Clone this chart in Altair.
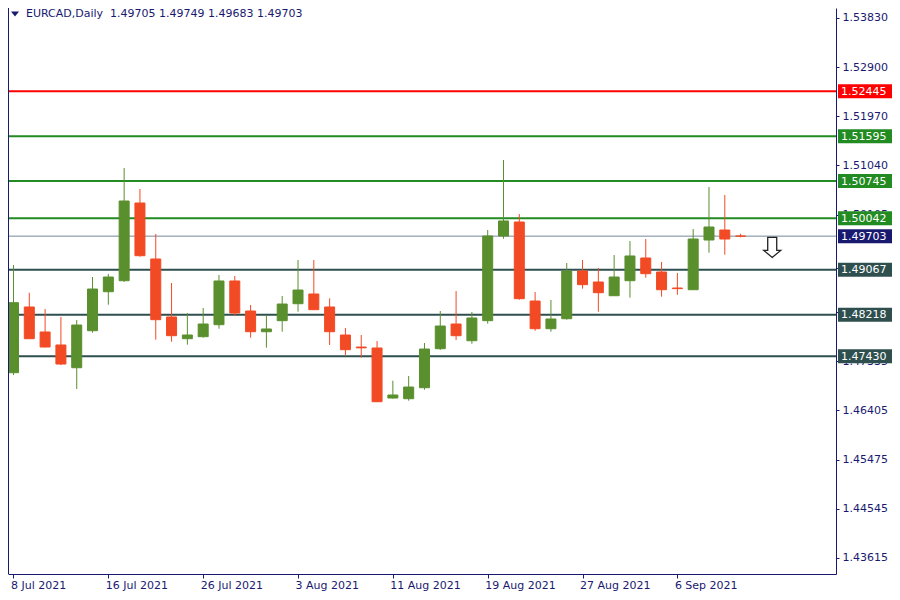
import altair as alt
import pandas as pd

# ---------------- data ----------------
dates = [
    "2021-07-08", "2021-07-09", "2021-07-12", "2021-07-13", "2021-07-14", "2021-07-15",
    "2021-07-16", "2021-07-19", "2021-07-20", "2021-07-21", "2021-07-22", "2021-07-23",
    "2021-07-26", "2021-07-27", "2021-07-28", "2021-07-29", "2021-07-30", "2021-08-02",
    "2021-08-03", "2021-08-04", "2021-08-05", "2021-08-06", "2021-08-09", "2021-08-10",
    "2021-08-11", "2021-08-12", "2021-08-13", "2021-08-16", "2021-08-17", "2021-08-18",
    "2021-08-19", "2021-08-20", "2021-08-23", "2021-08-24", "2021-08-25", "2021-08-26",
    "2021-08-27", "2021-08-30", "2021-08-31", "2021-09-01", "2021-09-02", "2021-09-03",
    "2021-09-06", "2021-09-07", "2021-09-08", "2021-09-09", "2021-09-10",
]
opens = [
    1.47120, 1.48363, 1.47890, 1.47644, 1.47214, 1.47914, 1.48652, 1.48860, 1.50330, 1.49271,
    1.48174, 1.47763, 1.47801, 1.48028, 1.48855, 1.48287, 1.47895, 1.48104, 1.48425, 1.48609,
    1.48363, 1.47833, 1.47606, 1.47587, 1.46641, 1.46628, 1.46836, 1.47574, 1.48041, 1.47725,
    1.48104, 1.49706, 1.49971, 1.48476, 1.47952, 1.48141, 1.49044, 1.48836, 1.48576, 1.48860,
    1.49290, 1.49025, 1.48722, 1.48690, 1.49630, 1.49819, 1.49705,
]
highs = [
    1.49157, 1.48633, 1.48325, 1.48174, 1.48117, 1.48930, 1.48987, 1.50992, 1.50595, 1.49744,
    1.48817, 1.48249, 1.48344, 1.48968, 1.48949, 1.48401, 1.48211, 1.48571, 1.49252, 1.49252,
    1.48527, 1.47965, 1.47833, 1.47719, 1.46968, 1.47057, 1.47682, 1.48287, 1.48665, 1.48268,
    1.49819, 1.51144, 1.50122, 1.48646, 1.48495, 1.49195, 1.49252, 1.49100, 1.49346, 1.49611,
    1.49649, 1.49214, 1.49006, 1.49838, 1.50633, 1.50482, 1.49749,
]
lows = [
    1.47076, 1.47760, 1.47600, 1.47265, 1.46811, 1.47877, 1.48406, 1.48836, 1.49314, 1.47744,
    1.47706, 1.47650, 1.47782, 1.47952, 1.48198, 1.47782, 1.47593, 1.47895, 1.48274, 1.48312,
    1.47644, 1.47455, 1.47404, 1.46565, 1.46628, 1.46590, 1.46798, 1.47549, 1.47738, 1.47668,
    1.48047, 1.49655, 1.48501, 1.47914, 1.47895, 1.48123, 1.48709, 1.48274, 1.48576, 1.48539,
    1.48917, 1.48558, 1.48595, 1.48690, 1.49390, 1.49352, 1.49683,
]
closes = [
    1.48444, 1.47763, 1.47606, 1.47284, 1.48022, 1.48703, 1.48930, 1.50368, 1.49333, 1.48123,
    1.47820, 1.47833, 1.48041, 1.48855, 1.48249, 1.47895, 1.47947, 1.48419, 1.48684, 1.48312,
    1.47895, 1.47555, 1.47590, 1.46571, 1.46698, 1.46849, 1.47568, 1.48003, 1.47820, 1.48155,
    1.49706, 1.49990, 1.48520, 1.47952, 1.48136, 1.49044, 1.48785, 1.48633, 1.48930, 1.49328,
    1.48993, 1.48690, 1.48710, 1.49649, 1.49876, 1.49649, 1.49703,
]

levels = [1.52445, 1.51595, 1.50745, 1.50042, 1.49067, 1.48218, 1.47430]
level_colors = ["#ff0000", "#228b22", "#228b22", "#228b22", "#2f4f4f", "#2f4f4f", "#2f4f4f"]
current_price = 1.49703
current_color = "#778899"
current_box_color = "#191970"

y_tick_values = [1.43615, 1.44545, 1.45475, 1.46405, 1.47335, 1.48265,
                 1.49105, 1.50105, 1.51040, 1.51970, 1.52900, 1.53830]
x_tick_index = [0, 6, 12, 18, 24, 30, 36, 42]
x_tick_labels = ["8 Jul 2021", "16 Jul 2021", "26 Jul 2021", "3 Aug 2021",
                 "11 Aug 2021", "19 Aug 2021", "27 Aug 2021", "6 Sep 2021"]

arrow_index = [48]
arrow_price = [1.4949]

symbol = "EURCAD,Daily"

# ---------------- styles ----------------
UP = "#5a8f2e"
DOWN = "#f24a24"
NAVY = "#191970"
FONT = "DejaVu Sans"
W, H = 828, 566

df = pd.DataFrame({
    "date": dates, "open": opens, "high": highs, "low": lows, "close": closes,
})
df["idx"] = range(len(df))
df["dir"] = ["up" if c >= o else "down" for o, c in zip(opens, closes)]

lev_df = pd.DataFrame({"level": levels, "color": level_colors})
cur_df = pd.DataFrame({"level": [current_price], "color": [current_box_color]})
box_df = pd.concat([lev_df, cur_df], ignore_index=True)

label_expr = ("[" + ",".join("'%s'" % s for s in x_tick_labels) + "]"
              "[indexof([" + ",".join(str(v) for v in x_tick_index) + "], datum.value)]")

x_scale = alt.Scale(domain=[-1 / 32, -1 / 32 + W / 16], nice=False, zero=False)
y_scale = alt.Scale(domain=[1.43312, 1.54019], nice=False, zero=False)

x_axis = alt.Axis(values=x_tick_index, labelExpr=label_expr, title=None, grid=False,
                  orient="bottom", labelAlign="left", labelBaseline="top", labelPadding=1,
                  labelOffset=-3,
                  tickSize=4, tickColor=NAVY, domainColor=NAVY, labelColor=NAVY,
                  labelFont=FONT, labelFontSize=11, labelOverlap=False, labelFlush=False,
                  labelBound=False)
y_axis = alt.Axis(values=y_tick_values, format=".5f", title=None, grid=False, orient="right",
                  tickSize=3, labelPadding=3, tickColor=NAVY, domainColor=NAVY,
                  labelColor=NAVY, labelFont=FONT, labelFontSize=11, labelOverlap=False,
                  labelFlush=False, labelBound=False)

color_scale = alt.Scale(domain=["up", "down"], range=[UP, DOWN])

base = alt.Chart(df)

wicks = base.mark_rule(strokeWidth=1, clip=True).encode(
    x=alt.X("idx:Q", scale=x_scale, axis=x_axis),
    y=alt.Y("low:Q", scale=y_scale, axis=y_axis),
    y2="high:Q",
    color=alt.Color("dir:N", scale=color_scale, legend=None),
)

bodies = base.mark_bar(width=10, strokeWidth=1, clip=True).encode(
    x=alt.X("idx:Q", scale=x_scale),
    y=alt.Y("open:Q", scale=y_scale),
    y2="close:Q",
    fill=alt.Fill("dir:N", scale=color_scale, legend=None),
    stroke=alt.Stroke("dir:N", scale=color_scale, legend=None),
)

level_lines = alt.Chart(lev_df).mark_rule(strokeWidth=2).encode(
    y=alt.Y("level:Q", scale=y_scale),
    color=alt.Color("color:N", scale=None),
)

current_line = alt.Chart(cur_df).mark_rule(strokeWidth=1).encode(
    y=alt.Y("level:Q", scale=y_scale),
    color=alt.value(current_color),
)

left_frame = alt.Chart(cur_df).mark_rule(strokeWidth=1, color=NAVY).encode(
    x=alt.value(0.5), y=alt.value(0), y2=alt.value(H),
)

boxes = alt.Chart(box_df).mark_tick(orient="horizontal", size=55, thickness=14,
                                     opacity=1).encode(
    x=alt.value(857.5),
    y=alt.Y("level:Q", scale=y_scale),
    color=alt.Color("color:N", scale=None),
)

box_text = alt.Chart(box_df).mark_text(align="left", baseline="middle", color="white",
                                        font=FONT, fontSize=11, dy=0.5).encode(
    x=alt.value(833),
    y=alt.Y("level:Q", scale=y_scale),
    text=alt.Text("level:Q", format=".5f"),
)

arrow_df = pd.DataFrame({"idx": arrow_index, "price": arrow_price})
arrow = alt.Chart(arrow_df).mark_point(
    shape="M -0.45 -1 L 0.45 -1 L 0.45 0.3 L 0.85 0.3 L 0 1 L -0.85 0.3 L -0.45 0.3 Z",
    size=400, filled=True, fill="white", stroke="#222222", strokeWidth=1.3, opacity=1,
).encode(
    x=alt.X("idx:Q", scale=x_scale),
    y=alt.Y("price:Q", scale=y_scale),
)

last = df.iloc[-1]
header = "%s\u00a0\u00a0%.5f %.5f %.5f %.5f" % (symbol, last["open"], last["high"],
                                                 last["low"], last["close"])
head_df = pd.DataFrame({"t": [header]})
header_text = alt.Chart(head_df).mark_text(align="left", baseline="middle", font=FONT,
                                            fontSize=11, color=NAVY).encode(
    x=alt.value(18), y=alt.value(6), text="t:N",
)
header_tri = alt.Chart(head_df).mark_point(
    shape="M -1 -0.6 L 1 -0.6 L 0 0.6 Z", size=64, filled=True, color=NAVY, opacity=1,
).encode(x=alt.value(7), y=alt.value(6))

chart = alt.layer(
    level_lines, current_line, wicks, bodies, left_frame, boxes, box_text, arrow,
    header_tri, header_text,
).properties(
    width=W, height=H,
    autosize=alt.AutoSizeParams(type="none"),
    padding={"left": 0, "top": 0, "right": 56, "bottom": 18},
    background="white",
).configure_view(stroke=None)

chart.save("out.html", embed_options={"renderer": "svg", "actions": False})
